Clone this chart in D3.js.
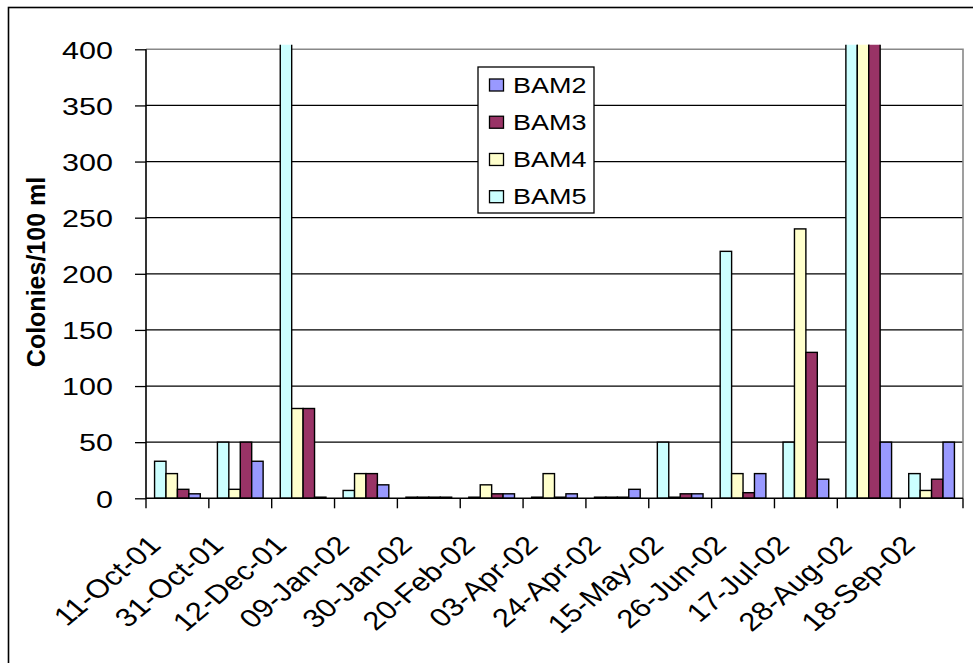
<!DOCTYPE html>
<html><head><meta charset="utf-8">
<script src="https://cdn.jsdelivr.net/npm/d3@7"></script>
<style>body{margin:0;background:#fff}svg{display:block}text{font-family:"Liberation Sans",Arial,sans-serif}</style>
</head><body><svg id="c" width="973" height="663"></svg>
<script>
const categories = ["11-Oct-01","31-Oct-01","12-Dec-01","09-Jan-02","30-Jan-02","20-Feb-02","03-Apr-02","24-Apr-02","15-May-02","26-Jun-02","17-Jul-02","28-Aug-02","18-Sep-02"];
const seriesNames = ["BAM2","BAM3","BAM4","BAM5"];
const BAM2 = [4, 33, 1, 12, 1, 4, 4, 8, 4, 22, 17, 50, 50];
const BAM3 = [8, 50, 80, 22, 1, 4, 1, 1, 4, 5, 130, 450, 17];
const BAM4 = [22, 8, 80, 22, 1, 12, 22, 1, 1, 22, 240, 450, 7];
const BAM5 = [33, 50, 450, 7, 1, 1, 1, 1, 50, 220, 50, 450, 22];
const yTicks = [0, 50, 100, 150, 200, 250, 300, 350, 400];
const colors = {BAM2:"#9999FF", BAM3:"#993366", BAM4:"#FFFFCC", BAM5:"#CCFFFF"};
const values = {BAM2, BAM3, BAM4, BAM5};
const drawOrder = ["BAM5","BAM4","BAM3","BAM2"];

const svg = d3.select("#c");
const L = 146, R = 963, T = 49.3, B = 498.3, SQ = 0.8;

// outer chart border (left and top visible)
svg.append("rect").attr("x", 8.5).attr("y", 7.5).attr("width", 1100).attr("height", 1100)
  .attr("fill", "none").attr("stroke", "#000").attr("stroke-width", 1.6);

const x = d3.scaleBand().domain(categories).range([L, R]).padding(0);
const xs = d3.scaleBand().domain(drawOrder).range([0, x.bandwidth()]).paddingInner(0).paddingOuter(0.75);
const y = d3.scaleLinear().domain([0, 400]).range([B, T]);

// gridlines
svg.append("g").selectAll("line").data(yTicks.filter(d => d > 0 && d < 400)).join("line")
  .attr("x1", L).attr("x2", R).attr("y1", d => y(d)).attr("y2", d => y(d))
  .attr("stroke", "#000").attr("stroke-width", 1.3);
// plot area border top/right (gray)
svg.append("path").attr("d", `M${L},${y(400)}H${R}V${B}`).attr("fill", "none")
  .attr("stroke", "#888").attr("stroke-width", 1.6);

// bars
svg.append("clipPath").attr("id", "clip").append("rect")
  .attr("x", L).attr("y", T - 4.5).attr("width", R - L).attr("height", B - T + 4.5);
const gb = svg.append("g").attr("clip-path", "url(#clip)");
categories.forEach((c, i) => {
  drawOrder.forEach(s => {
    const v = values[s][i];
    gb.append("rect")
      .attr("x", x(c) + xs(s)).attr("width", xs.bandwidth())
      .attr("y", y(v)).attr("height", y(0) - y(v))
      .attr("fill", colors[s]).attr("stroke", "#000").attr("stroke-width", 1.4);
  });
});

// y axis
const ya = svg.append("g").attr("transform", `translate(${L},0)`)
  .call(d3.axisLeft(y).tickValues(yTicks).tickSize(11).tickPadding(0));
ya.select(".domain").attr("stroke", "#000").attr("stroke-width", 1.6).attr("d", `M0,${T}V${B}`);
ya.selectAll(".tick line").attr("stroke", "#000").attr("stroke-width", 1.3);
ya.selectAll(".tick text").attr("x", -33).attr("dy", "0.36em").attr("font-size", 30.5)
  .attr("fill", "#000").attr("transform", `scale(1,${SQ})`);

// x axis
const xa = svg.append("g").attr("transform", `translate(0,${B})`)
  .call(d3.axisBottom(x).tickSize(0).tickPadding(0));
xa.select(".domain").attr("stroke", "#000").attr("stroke-width", 1.6).attr("d", `M${L},0H${R}`);
xa.selectAll(".tick text").attr("y", 0).attr("dy", 0).attr("font-size", 31).attr("fill", "#000")
  .attr("text-anchor", "end")
  .attr("transform", `translate(-15,48.5) scale(1,0.84) rotate(-45)`);
const bounds = categories.map(c => x(c)).concat([x.range()[1]]);
xa.append("g").selectAll("line").data(bounds).join("line")
  .attr("x1", d => d).attr("x2", d => d).attr("y1", 0).attr("y2", 10)
  .attr("stroke", "#000").attr("stroke-width", 1.4);

// y title
svg.append("text").attr("transform", "translate(36,272) rotate(-90)")
  .attr("text-anchor", "middle").attr("dy", "0.36em").attr("font-size", 25).attr("font-weight", "bold")
  .text("Colonies/100 ml");

// legend
const lg = svg.append("g");
lg.append("rect").attr("x", 478).attr("y", 67).attr("width", 116).attr("height", 146)
  .attr("fill", "#fff").attr("stroke", "#000").attr("stroke-width", 1.3);
const rowY = d3.scalePoint().domain(seriesNames).range([85, 196.7]);
seriesNames.forEach(s => {
  lg.append("rect").attr("x", 489.5).attr("y", rowY(s) - 6).attr("width", 14).attr("height", 12)
    .attr("fill", colors[s]).attr("stroke", "#000").attr("stroke-width", 1.3);
  lg.append("text").attr("transform", `translate(513,${rowY(s)}) scale(1,${SQ})`)
    .attr("dy", "0.36em").attr("font-size", 27).text(s);
});
</script></body></html>
